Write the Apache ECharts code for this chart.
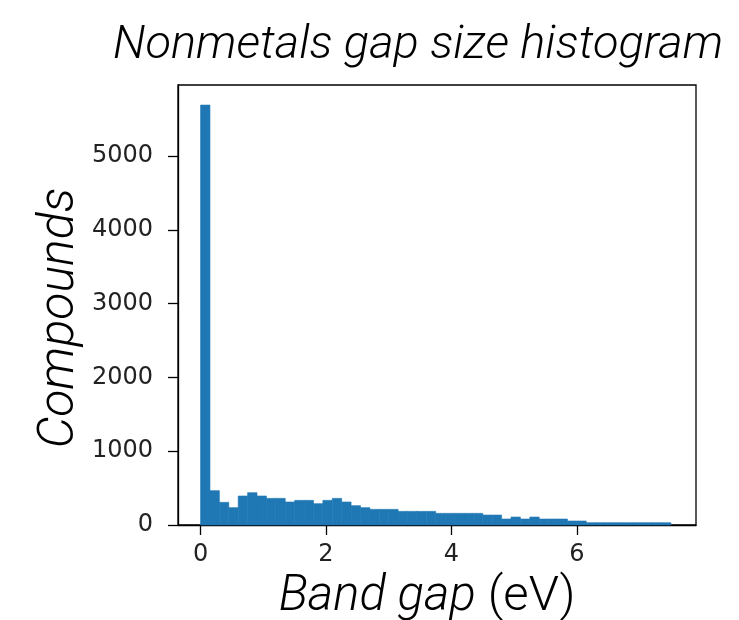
<!DOCTYPE html>
<html lang="en">
<head>
    <meta http-equiv="Content-Type" content="text/html; charset=utf-8"/>
    <title>Nonmetals gap size histogram</title>
    <script src="https://cdn.jsdelivr.net/npm/echarts@6/dist/echarts.min.js"></script>
</head>
<body>
<style>
    body {
        margin: 0;
        background: #fff;
    }

    #chart {
        width: 739px;
        height: 620px;
    }
</style>
<div id="chart"></div>
<script type="text/javascript">

  // histogram: 50 bins of 0.15 eV starting at 0
  var binStart = 0;
  var binWidth = 0.15;
  var counts = [
    5690, 465, 307, 235, 393, 438, 393, 361, 361, 312,
    334, 334, 289, 334, 361, 312, 262, 235, 212, 212,
    212, 185, 185, 185, 185, 158, 158, 158, 158, 158,
    135, 135, 81, 108, 81, 108, 81, 81, 81, 54,
    54, 31, 31, 31, 31, 31, 31, 31, 31, 31
  ];
  var xTicks = [0, 2, 4, 6];
  var yTicks = [0, 1000, 2000, 3000, 4000, 5000];

  var titleText = 'Nonmetals gap size histogram';
  var yName = 'Compounds';

  var bins = counts.map(function (c, i) {
    var x0 = binStart + i * binWidth;
    return [x0, x0 + binWidth, c];
  });

  var labelFont = 'Roboto, "Liberation Sans", sans-serif';
  var tickFont = '"DejaVu Sans", sans-serif';

  function plain(v) {
    return String(v);
  }

  var myChart = echarts.init(document.getElementById('chart'));
  var option = {
    animation: false,
    backgroundColor: '#fff',
    grid: {
      left: 178,
      right: 43,
      top: 85,
      bottom: 95,
      containLabel: false,
      show: true,
      borderColor: '#000',
      borderWidth: 1.3
    },
    xAxis: {
      type: 'value',
      min: -0.36,
      max: 7.9,
      axisLine: {show: true, onZero: false, lineStyle: {color: '#000', width: 1.3}},
      axisTick: {show: true, length: 10, customValues: xTicks, lineStyle: {color: '#000', width: 1.3}},
      axisLabel: {
        customValues: xTicks,
        formatter: plain,
        margin: 18,
        fontFamily: tickFont,
        fontSize: 24,
        color: '#222'
      },
      splitLine: {show: false}
    },
    yAxis: {
      type: 'value',
      min: 0,
      max: 5962,
      axisLine: {show: true, onZero: false, lineStyle: {color: '#000', width: 1.3}},
      axisTick: {show: true, length: 10, customValues: yTicks, lineStyle: {color: '#000', width: 1.3}},
      axisLabel: {
        customValues: yTicks,
        formatter: plain,
        margin: 25,
        fontFamily: tickFont,
        fontSize: 24,
        color: '#222'
      },
      splitLine: {show: false}
    },
    graphic: [
      {
        type: 'text',
        x: 113,
        y: 23,
        style: {
          text: titleText,
          fontFamily: labelFont,
          fontStyle: 'italic',
          fontWeight: 300,
          fontSize: 47,
          fill: '#000',
          textAlign: 'left',
          textVerticalAlign: 'top'
        }
      },
      {
        type: 'text',
        x: 60,
        y: 318,
        rotation: Math.PI / 2,
        style: {
          text: yName,
          fontFamily: labelFont,
          fontStyle: 'italic',
          fontWeight: 300,
          fontSize: 50,
          fill: '#000',
          textAlign: 'center',
          textVerticalAlign: 'middle'
        }
      },
      {
        type: 'text',
        x: 427,
        y: 598,
        style: {
          text: '{i|Band gap }{n|(eV)}',
          rich: {
            i: {fontFamily: labelFont, fontStyle: 'italic', fontWeight: 300, fontSize: 49, fill: '#000'},
            n: {fontFamily: labelFont, fontStyle: 'normal', fontWeight: 300, fontSize: 49, fill: '#000'}
          },
          textAlign: 'center',
          textVerticalAlign: 'middle'
        }
      }
    ],
    series: [
      {
        type: 'custom',
        data: bins,
        encode: {x: [0, 1], y: 2},
        renderItem: function (params, api) {
          var p0 = api.coord([api.value(0), api.value(2)]);
          var p1 = api.coord([api.value(1), 0]);
          return {
            type: 'rect',
            shape: {x: p0[0], y: p0[1], width: p1[0] - p0[0], height: p1[1] - p0[1]},
            style: {fill: '#1f77b4', stroke: '#1f77b4', lineWidth: 0.6}
          };
        }
      }
    ]
  };
  myChart.setOption(option);
</script>
</body>
</html>
